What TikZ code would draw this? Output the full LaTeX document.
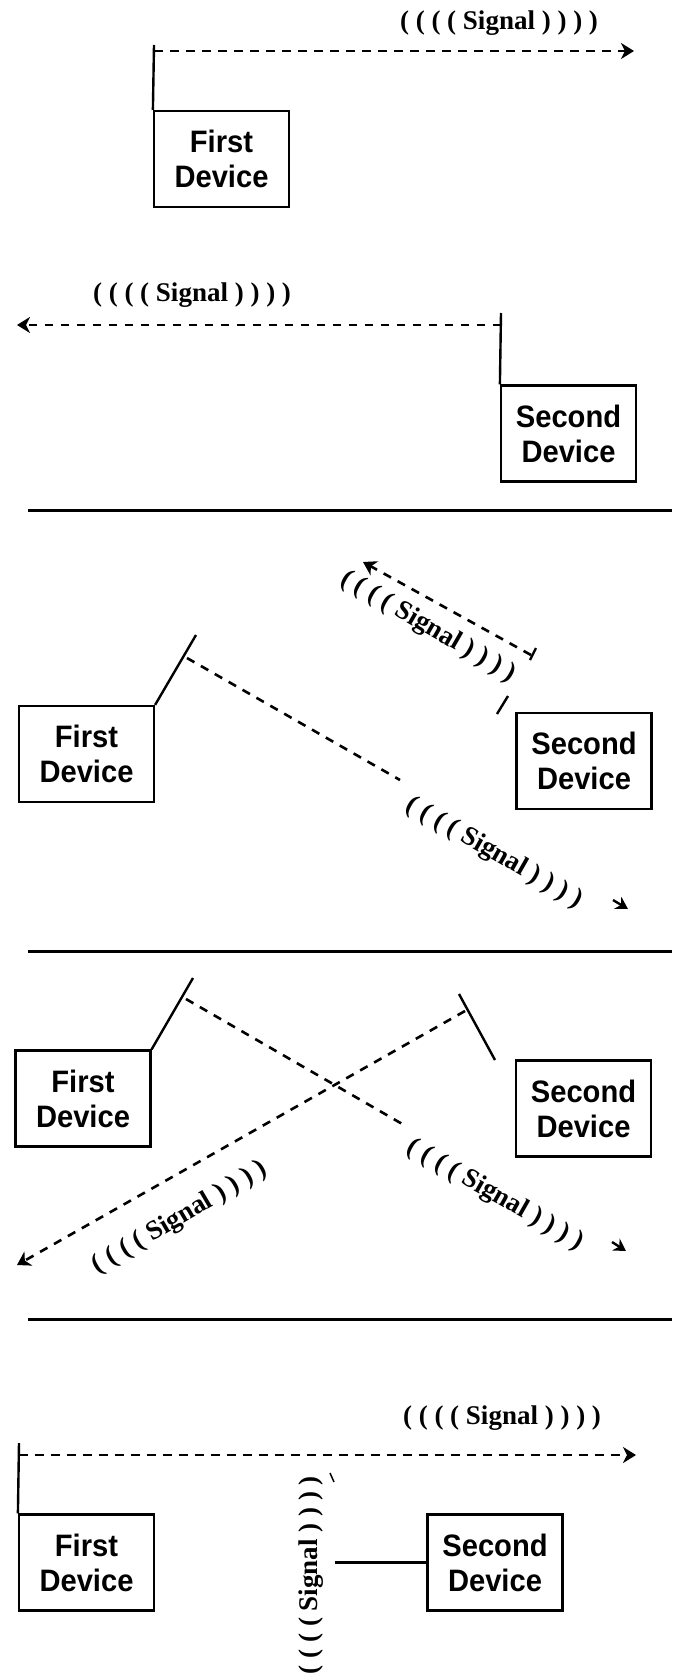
\documentclass[tikz,border=0pt]{standalone}
\usepackage{fontspec}
\setmainfont{Liberation Serif}
\newfontfamily\devfont[FakeStretch=0.94]{Liberation Sans}
\usetikzlibrary{arrows.meta}
\begin{document}
\begin{tikzpicture}[x=1pt,y=-1pt,
  devbox/.style={draw,line width=2.2pt,minimum width=135pt,minimum height=96pt,inner sep=0pt,align=center,
    font=\devfont\bfseries\fontsize{31}{35}\selectfont},
  sigtext/.style={inner sep=0pt,font=\bfseries\fontsize{27}{30}\selectfont},
  wire/.style={line width=2.4pt},
  sigline/.style={line width=2.6pt,dash pattern=on 8.5pt off 7.5pt},
  sigarrow/.style={sigline,-{Stealth[length=13pt,width=16pt,inset=4pt]}},
  tiparrow/.style={line width=2.4pt,-{Stealth[length=12pt,width=14pt,inset=4pt]}},
  sep/.style={line width=3pt}]
\useasboundingbox (0,0) rectangle (678,1675);

% ---------- Panel 1 ----------
\node[devbox] (d1a) at (221.5,159) {First\\Device};
\coordinate (a1top) at (154,45);
\coordinate (a1s) at (154,51);
\coordinate (a1e) at (634,51);
\draw[wire] (d1a.north west) -- (a1top);
\draw[sigarrow] (a1s) -- (a1e);
\node[sigtext] (s1a) at (499,23) {( ( ( ( Signal ) ) ) )};

\node[devbox] (d1b) at (568.5,433.5) {Second\\Device};
\coordinate (b1top) at (501,313);
\coordinate (b1s) at (501,325);
\coordinate (b1e) at (17,325);
\draw[wire] (d1b.north west) -- (b1top);
\draw[sigarrow] (b1s) -- (b1e);
\node[sigtext] (s1b) at (192,295) {( ( ( ( Signal ) ) ) )};

\coordinate (l1a) at (28,510);
\coordinate (l1b) at (672,510);
\draw[sep] (l1a) -- (l1b);

% ---------- Panel 2 ----------
\node[devbox] (d2a) at (86.5,754) {First\\Device};
\coordinate (a2top) at (196,635);
\draw[wire] (d2a.north east) -- (a2top);
\coordinate (a2s) at (187,658);
\coordinate (a2m) at (400,780);
\coordinate (a2t) at (613,900);
\coordinate (a2e) at (628,909);
\draw[sigline] (a2s) -- (a2m);
\draw[tiparrow] (a2t) -- (a2e);
\node[sigtext,rotate=-29.7] (s2a) at (494,853) {( ( ( ( Signal ) ) ) )};

\node[devbox] (d2b) at (584,761) {Second\\Device};
\coordinate (b2a) at (497,714);
\coordinate (b2b) at (508,696);
\coordinate (b2c) at (530,660);
\coordinate (b2d) at (536,648);
\draw[wire] (b2a) -- (b2b);
\draw[wire] (b2c) -- (b2d);
\coordinate (b2s) at (531,655);
\coordinate (b2e) at (363,562);
\draw[sigarrow] (b2s) -- (b2e);
\node[sigtext,rotate=-30] (s2b) at (428,627) {( ( ( ( Signal ) ) ) )};

\coordinate (l2a) at (28,951);
\coordinate (l2b) at (672,951);
\draw[sep] (l2a) -- (l2b);

% ---------- Panel 3 ----------
\node[devbox] (d3a) at (83,1098.5) {First\\Device};
\coordinate (a3top) at (193,978);
\draw[wire] (d3a.north east) -- (a3top);
\coordinate (a3s) at (186,999);
\coordinate (a3m) at (404,1125);
\coordinate (a3t) at (612,1242);
\coordinate (a3e) at (626,1251);
\draw[sigline] (a3s) -- (a3m);
\draw[tiparrow] (a3t) -- (a3e);
\node[sigtext,rotate=-29.6] (s3a) at (495,1195) {( ( ( ( Signal ) ) ) )};

\node[devbox] (d3b) at (583.5,1108.5) {Second\\Device};
\coordinate (b3a) at (495,1060);
\coordinate (b3b) at (459,994);
\draw[wire] (b3a) -- (b3b);
\coordinate (b3s) at (465,1011);
\coordinate (b3e) at (17,1265);
\draw[sigarrow] (b3s) -- (b3e);
\node[sigtext,rotate=30.4] (s3b) at (180,1218) {( ( ( ( Signal ) ) ) )};

\coordinate (l3a) at (28,1319);
\coordinate (l3b) at (672,1319);
\draw[sep] (l3a) -- (l3b);

% ---------- Panel 4 ----------
\node[sigtext] (s4a) at (502,1418) {( ( ( ( Signal ) ) ) )};
\node[devbox] (d4a) at (86.5,1562.5) {First\\Device};
\coordinate (a4top) at (19,1443);
\coordinate (a4s) at (19,1455);
\coordinate (a4e) at (636,1455);
\draw[wire] (d4a.north west) -- (a4top);
\draw[sigarrow] (a4s) -- (a4e);

\node[devbox] (d4b) at (495,1562.5) {Second\\Device};
\coordinate (b4e) at (335,1562.5);
\draw[wire] (d4b.west) -- (b4e);
\node[sigtext,rotate=90] (s4b) at (311,1575) {( ( ( ( Signal ) ) ) )};
\coordinate (t4a) at (330,1473);
\coordinate (t4b) at (334,1482);
\draw[line width=1.5pt] (t4a) -- (t4b);
\end{tikzpicture}
\end{document}
